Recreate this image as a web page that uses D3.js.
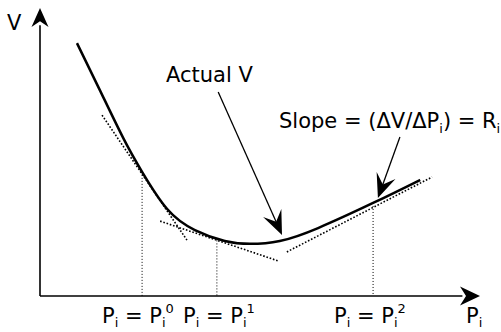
<!DOCTYPE html>
<html><head><meta charset="utf-8">
<script src="https://cdn.jsdelivr.net/npm/d3@7"></script>
<style>html,body{margin:0;padding:0;background:#fff;}svg{display:block;}</style>
</head><body>
<svg id="c" width="501" height="332"></svg>
<script>
// Data (abstract units: P on x, V on y, both 0..100)
const curveP = [8.4, 13.6, 18.9, 23.2, 28.9, 35.2, 42.0, 47.7, 54.5, 63.2, 75.7, 86.4];
const curveV = [87.8, 71.5, 54.9, 43.1, 30.2, 22.9, 19.1, 18.1, 19.1, 23.6, 32.3, 40.3];
// tangent segments [P1, V1, P2, V2]
const tangents = [
  [14.1, 62.8, 33.4, 19.4],
  [27.3, 26.0, 54.1, 12.2],
  [56.1, 15.3, 89.1, 41.3]
];
// iterate points P_i^0, P_i^1, P_i^2 and V at each
const iterP = [23.2, 40.2, 75.7];
const iterV = [43.1, 19.3, 32.3];
const iterSup = ["0", "1", "2"];
// annotation arrows [fromP, fromV, toP, toV]
const annotArrows = [
  [40.5, 70.8, 55.0, 21.2],
  [81.8, 55.2, 76.8, 34.0]
];

const svg = d3.select("#c");
const x = d3.scaleLinear().domain([0, 100]).range([40, 480]);
const y = d3.scaleLinear().domain([0, 100]).range([296, 8]);
const font = "DejaVu Sans, Verdana, sans-serif";

// dart arrowhead path at tip, pointing along angle
function dart(tx, ty, ang, L, W, notch) {
  const c = Math.cos(ang), s = Math.sin(ang);
  const pt = (u, v) => [tx + u * c - v * s, ty + u * s + v * c];
  const a = pt(-L, -W), b = pt(-L * notch, 0), d = pt(-L, W);
  return `M${tx},${ty}L${a[0]},${a[1]}L${b[0]},${b[1]}L${d[0]},${d[1]}Z`;
}

// axes
svg.append("line").attr("x1", x(0)).attr("y1", y(0)).attr("x2", x(0)).attr("y2", y(94))
  .attr("stroke", "#000").attr("stroke-width", 1.6);
svg.append("line").attr("x1", x(0)).attr("y1", y(0)).attr("x2", x(96)).attr("y2", y(0))
  .attr("stroke", "#000").attr("stroke-width", 1.6);
svg.append("path").attr("d", dart(x(0), y(100), -Math.PI / 2, 19, 8.5, 0.7)).attr("fill", "#000");
svg.append("path").attr("d", dart(x(100), y(0), 0, 20, 9.5, 0.7)).attr("fill", "#000");

// vertical dotted lines
iterP.forEach((p, i) => {
  svg.append("line").attr("x1", x(p)).attr("x2", x(p)).attr("y1", y(iterV[i])).attr("y2", y(0))
    .attr("stroke", "#000").attr("stroke-width", 1).attr("stroke-dasharray", "1,2");
});

// tangent dotted lines
tangents.forEach(t => {
  svg.append("line").attr("x1", x(t[0])).attr("y1", y(t[1])).attr("x2", x(t[2])).attr("y2", y(t[3]))
    .attr("stroke", "#000").attr("stroke-width", 1.6).attr("stroke-dasharray", "1.6,1.8");
});

// curve
const pts = curveP.map((p, i) => [p, curveV[i]]);
svg.append("path").datum(pts)
  .attr("d", d3.line().x(d => x(d[0])).y(d => y(d[1])).curve(d3.curveNatural))
  .attr("fill", "none").attr("stroke", "#000").attr("stroke-width", 2.5);

// annotation arrows
annotArrows.forEach(a => {
  const x1 = x(a[0]), y1 = y(a[1]), x2 = x(a[2]), y2 = y(a[3]);
  const ang = Math.atan2(y2 - y1, x2 - x1);
  svg.append("line").attr("x1", x1).attr("y1", y1).attr("x2", x2 - 12 * Math.cos(ang)).attr("y2", y2 - 12 * Math.sin(ang))
    .attr("stroke", "#000").attr("stroke-width", 1.3);
  svg.append("path").attr("d", dart(x2, y2, ang, 24, 10, 0.6)).attr("fill", "#000");
});

// texts
const fs = 21;
function txt(xp, yp, anchor) {
  return svg.append("text").attr("x", xp).attr("y", yp).attr("font-family", font)
    .attr("font-size", fs).attr("fill", "#000").attr("text-anchor", anchor || "start");
}
txt(7, 30).text("V");
txt(166, 82).text("Actual V");
{
  const t = txt(279, 128);
  t.append("tspan").text("Slope = (ΔV/ΔP");
  t.append("tspan").attr("font-size", 13).attr("dy", 5).text("i");
  t.append("tspan").attr("dy", -5).text(") = R");
  t.append("tspan").attr("font-size", 13).attr("dy", 5).text("i");
}
const labX = [102, 183, 334];
iterP.forEach((p, i) => {
  const t = txt(labX[i], 323);
  t.append("tspan").text("P");
  t.append("tspan").attr("font-size", 13).attr("dy", 4).text("i");
  t.append("tspan").attr("dy", -4).text(" = P");
  t.append("tspan").attr("font-size", 13).attr("dy", 4).text("i");
  t.append("tspan").attr("font-size", 13).attr("dy", -14).text(iterSup[i]);
});
{
  const t = txt(466, 323);
  t.append("tspan").text("P");
  t.append("tspan").attr("font-size", 13).attr("dy", 4).text("i");
}
</script>
</body></html>
